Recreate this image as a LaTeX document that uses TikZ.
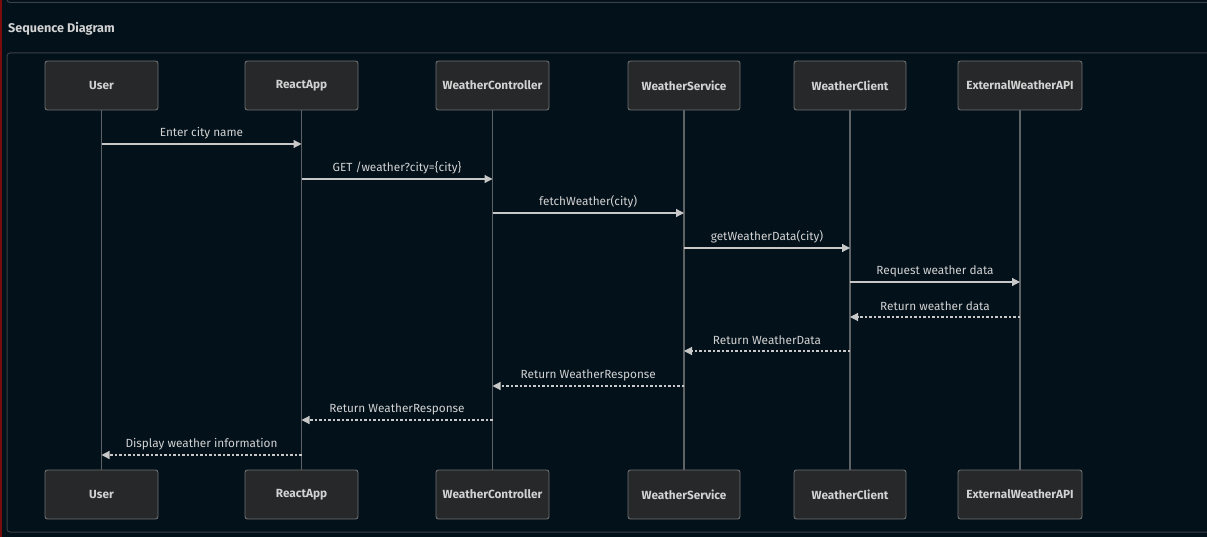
\documentclass[tikz,border=0pt]{standalone}
\usepackage{fontspec}
\setmainfont{Fira Sans}
\usetikzlibrary{arrows.meta,calc}
\definecolor{bgc}{HTML}{03111A}
\definecolor{panelline}{HTML}{3A4046}
\definecolor{boxfill}{HTML}{262829}
\definecolor{boxline}{HTML}{707070}
\definecolor{lifec}{HTML}{5E6265}
\definecolor{msgc}{HTML}{C8C8C8}
\definecolor{txtc}{HTML}{D2D2D2}
\definecolor{edgered}{HTML}{7A0C0C}
\tikzset{
  actor/.style={draw=boxline, fill=boxfill, rounded corners=2.5pt, line width=0.9pt,
    minimum width=113pt, minimum height=49pt, inner sep=0pt,
    text=txtc, font=\fontsize{11.8}{13}\selectfont\bfseries},
  lifeline/.style={draw=lifec, line width=1.1pt},
  call/.style={draw=msgc, line width=1.2pt, -{Triangle[length=8pt,width=8pt]}},
  reply/.style={call, dash pattern=on 2.5pt off 2pt},
  msglabel/.style={text=txtc, font=\fontsize{11.8}{13}\selectfont, inner sep=0pt}
}
\begin{document}
\begin{tikzpicture}[x=1pt,y=-1pt]
\useasboundingbox (0,0) rectangle (1207,537);
\fill[bgc] (0,0) rectangle (1207,537);
% page edges
\draw[edgered, line width=1.6pt] (0.8,0) -- (0.8,537);
\draw[panelline, line width=1pt, rounded corners=3pt] (7,-10) -- (7,2.5) -- (1215,2.5);
\node[anchor=west, text=txtc, font=\fontsize{12.6}{14}\selectfont\bfseries, inner sep=0pt] (title) at (8,28.5) {Sequence Diagram};
\draw[panelline, line width=1pt, rounded corners=3pt] (7,53) rectangle (1220,532);

% participants (top and bottom)
\foreach \n/\x/\w/\t in {u/101.5/113/User, r/301.5/113/ReactApp, c/492.5/113/WeatherController,
    s/684/112/WeatherService, k/850/112/WeatherClient, e/1020/124/ExternalWeatherAPI}{
  \node[actor, minimum width=\w pt] (\n top) at (\x,85.5) {\t};
  \node[actor, minimum width=\w pt] (\n bot) at (\x,494.5) {\t};
  \draw[lifeline] (\n top.south) -- (\n bot.north);
}

% messages
\foreach \a/\b/\y/\st/\t in {
  u/r/144/call/{Enter city name},
  r/c/179/call/{GET /weather?city=\{city\}},
  c/s/213/call/{fetchWeather(city)},
  s/k/248/call/{getWeatherData(city)},
  k/e/282/call/{Request weather data},
  e/k/317/reply/{Return weather data},
  k/s/351/reply/{Return WeatherData},
  s/c/386/reply/{Return WeatherResponse},
  c/r/420/reply/{Return WeatherResponse},
  r/u/455/reply/{Display weather information}}{
  \coordinate (p\a\b) at (\a top.south |- 0,\y);
  \coordinate (q\a\b) at (\b top.south |- 0,\y);
  \draw[\st] (p\a\b) -- (q\a\b);
  \node[msglabel] at ($ (p\a\b)!0.5!(q\a\b) + (0,-11) $) {\t};
}
\end{tikzpicture}
\end{document}
